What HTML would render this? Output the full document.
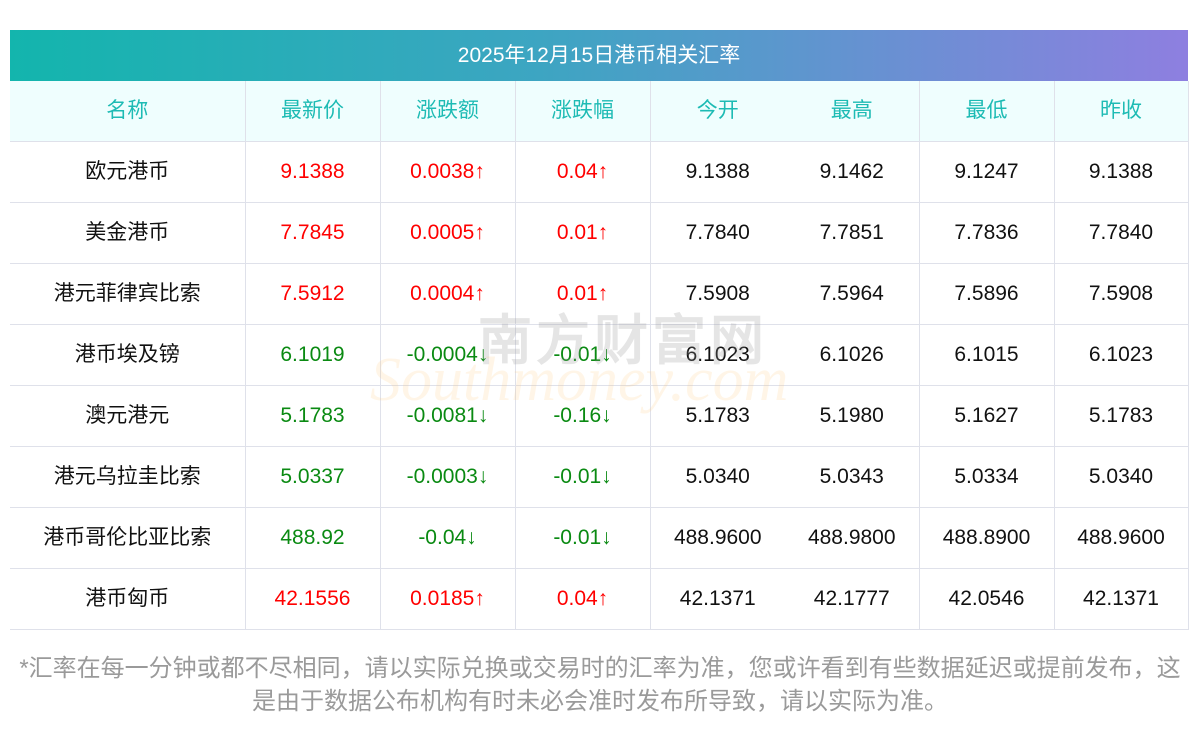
<!DOCTYPE html>
<html><head><meta charset="utf-8"><style>
body{margin:0;width:1200px;height:733px;background:#fff;position:relative;overflow:hidden;font-family:"Liberation Sans","WenQuanYi Zen Hei",sans-serif;}
.title{position:absolute;left:10px;top:30px;width:1178px;height:51px;background:linear-gradient(90deg,#13b5ad,#3da5c2 45%,#8e7fe0);color:#fff;font-size:21px;line-height:51px;text-align:center;}
table{position:absolute;left:10px;top:81px;border-collapse:collapse;table-layout:fixed;width:1178px;}
td{height:60px;border-bottom:1px solid #dfe1ea;text-align:center;font-size:21px;padding:0;color:#111;line-height:24px;}
td.b{border-right:1px solid #dfe1ea;}
tr.h td{background:#effefe;color:#1dbbb4;height:60px;}
.r{color:#f00}.g{color:#0a8a12}
.foot{position:absolute;left:0;width:1200px;text-align:center;color:#9a9a9a;font-size:24px;}
.wm1{position:absolute;left:478px;top:296px;font-size:54px;color:rgba(150,150,150,0.25);letter-spacing:4px;font-weight:bold;}
.wm2{position:absolute;left:370px;top:345px;font-size:62px;font-style:italic;color:rgba(255,200,120,0.18);font-family:"Liberation Serif",serif;}
</style></head><body>
<div class="title">2025年12月15日港币相关汇率</div>
<table>
<colgroup><col style="width:235px"><col style="width:135px"><col style="width:135px"><col style="width:135px"><col style="width:135px"><col style="width:134px"><col style="width:135px"><col style="width:134px"></colgroup>
<tr class="h"><td class="b">名称</td><td class="b">最新价</td><td class="b">涨跌额</td><td class="b">涨跌幅</td><td>今开</td><td class="b">最高</td><td class="b">最低</td><td class="b">昨收</td></tr>
<tr><td class="b">欧元港币</td><td class="b r">9.1388</td><td class="b r">0.0038↑</td><td class="b r">0.04↑</td><td>9.1388</td><td class="b">9.1462</td><td class="b">9.1247</td><td class="b">9.1388</td></tr>
<tr><td class="b">美金港币</td><td class="b r">7.7845</td><td class="b r">0.0005↑</td><td class="b r">0.01↑</td><td>7.7840</td><td class="b">7.7851</td><td class="b">7.7836</td><td class="b">7.7840</td></tr>
<tr><td class="b">港元菲律宾比索</td><td class="b r">7.5912</td><td class="b r">0.0004↑</td><td class="b r">0.01↑</td><td>7.5908</td><td class="b">7.5964</td><td class="b">7.5896</td><td class="b">7.5908</td></tr>
<tr><td class="b">港币埃及镑</td><td class="b g">6.1019</td><td class="b g">-0.0004↓</td><td class="b g">-0.01↓</td><td>6.1023</td><td class="b">6.1026</td><td class="b">6.1015</td><td class="b">6.1023</td></tr>
<tr><td class="b">澳元港元</td><td class="b g">5.1783</td><td class="b g">-0.0081↓</td><td class="b g">-0.16↓</td><td>5.1783</td><td class="b">5.1980</td><td class="b">5.1627</td><td class="b">5.1783</td></tr>
<tr><td class="b">港元乌拉圭比索</td><td class="b g">5.0337</td><td class="b g">-0.0003↓</td><td class="b g">-0.01↓</td><td>5.0340</td><td class="b">5.0343</td><td class="b">5.0334</td><td class="b">5.0340</td></tr>
<tr><td class="b">港币哥伦比亚比索</td><td class="b g">488.92</td><td class="b g">-0.04↓</td><td class="b g">-0.01↓</td><td>488.9600</td><td class="b">488.9800</td><td class="b">488.8900</td><td class="b">488.9600</td></tr>
<tr><td class="b">港币匈币</td><td class="b r">42.1556</td><td class="b r">0.0185↑</td><td class="b r">0.04↑</td><td>42.1371</td><td class="b">42.1777</td><td class="b">42.0546</td><td class="b">42.1371</td></tr>
</table>
<div class="wm1">南方财富网</div>
<div class="wm2">Southmoney.com</div>
<div class="foot" style="top:648px">*汇率在每一分钟或都不尽相同，请以实际兑换或交易时的汇率为准，您或许看到有些数据延迟或提前发布，这</div>
<div class="foot" style="top:681px">是由于数据公布机构有时未必会准时发布所导致，请以实际为准。</div>
</body></html>
